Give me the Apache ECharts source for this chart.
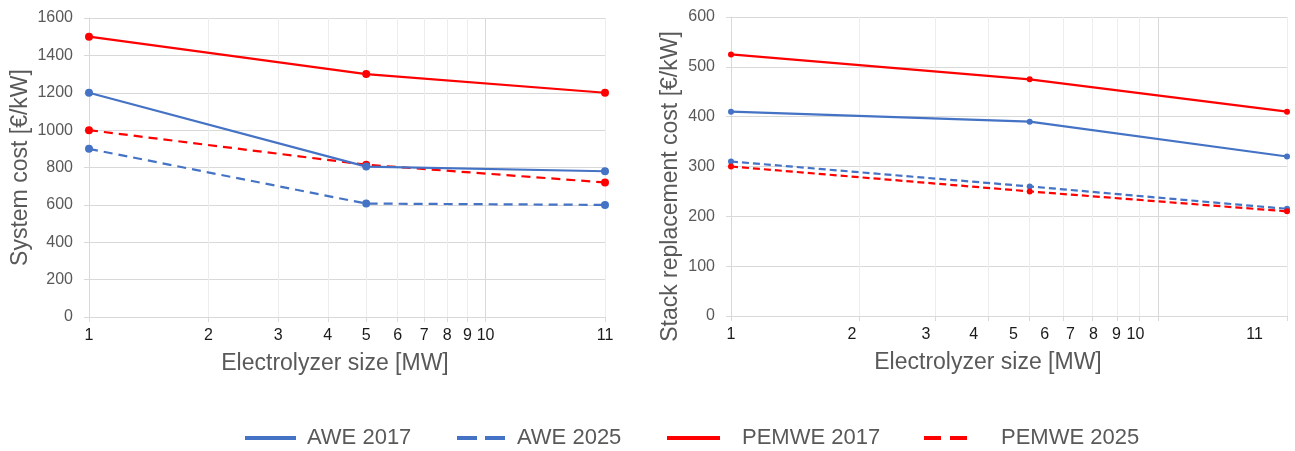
<!DOCTYPE html>
<html>
<head>
<meta charset="utf-8">
<script src="https://cdn.jsdelivr.net/npm/echarts@6/dist/echarts.min.js"></script>
<style>
html,body{margin:0;padding:0;background:#fff;}
#c{width:1295px;height:451px;}
</style>
</head>
<body>
<div id="c"></div>
<script>
// Electrolyzer sizes [MW] of the three data points
const sizes = [1, 5, 20];

// Left panel: system cost [€/kW]
const sysAWE2017 = [1200, 805, 780];
const sysAWE2025 = [900, 607, 600];
const sysPEM2017 = [1500, 1300, 1200];
const sysPEM2025 = [1000, 815, 720];

// Right panel: stack replacement cost [€/kW]
const stkAWE2017 = [410, 390, 320];
const stkAWE2025 = [310, 260, 215];
const stkPEM2017 = [525, 475, 410];
const stkPEM2025 = [300, 250, 210];

// x gridline values and tick labels
const gridValues = [1, 2, 3, 4, 5, 6, 7, 8, 9, 10, 20];
const tickLabels = ['1', '2', '3', '4', '5', '6', '7', '8', '9', '10', '11'];
// where the labels sit on each axis (as axis values)
const leftLabelAt = [1, 2, 3, 4, 5, 6, 7, 8, 9, 10, 20];
const rightLabelAt = [1, 1.92, 2.86, 3.7, 4.58, 5.42, 6.23, 7.05, 7.98, 8.84, 16.8];

const seriesNames = ['AWE 2017', 'AWE 2025', 'PEMWE 2017', 'PEMWE 2025'];
const BLUE = '#4472C4', RED = '#FF0000';
const GRAY = '#595959';

function pairs(vals) { return sizes.map((s, i) => [s, vals[i]]); }

function labelFor(atArr) {
  return function (v) {
    let best = 0, bd = Infinity;
    atArr.forEach((a, i) => { const d = Math.abs(Math.log(a) - Math.log(v)); if (d < bd) { bd = d; best = i; } });
    return tickLabels[best];
  };
}

const vColors = gridValues.map(v => (v === 1 || v === 10) ? '#D9D9D9' : '#EDEDED');

function xAxis(gi, labelAt, titlePad) {
  return {
    type: 'log', logBase: 10, gridIndex: gi, min: 1, max: 20,
    axisLine: { show: true, lineStyle: { color: '#D9D9D9', width: 1 } },
    axisTick: { show: true, customValues: gridValues, length: 5, lineStyle: { color: '#D9D9D9' } },
    axisLabel: { customValues: labelAt, formatter: labelFor(labelAt), color: '#1a1a1a', fontSize: 16,
      fontFamily: 'Liberation Sans', margin: 11, showMinLabel: true, showMaxLabel: true },
    splitLine: { show: true, lineStyle: { color: vColors, width: 1 } },
    minorTick: { show: false },
    name: 'Electrolyzer size [MW]', nameLocation: 'middle', nameGap: 35,
    nameTextStyle: { color: GRAY, fontSize: 23, fontFamily: 'Liberation Sans', padding: [0, titlePad, 0, 0] }
  };
}

function yAxis(gi, max, interval, name, gap, pad) {
  return {
    type: 'value', gridIndex: gi, min: 0, max: max, interval: interval,
    axisLine: { show: true, lineStyle: { color: '#D9D9D9', width: 1 } },
    axisTick: { show: true, length: 5, lineStyle: { color: '#D9D9D9' } },
    axisLabel: { color: GRAY, fontSize: 16, fontFamily: 'Liberation Sans', margin: 16,
      formatter: v => String(v) },
    splitLine: { show: true, lineStyle: { color: '#D9D9D9', width: 1 } },
    name: name, nameLocation: 'middle', nameGap: gap,
    nameTextStyle: { color: GRAY, fontSize: 23, fontFamily: 'Liberation Sans', padding: [0, pad, 0, 0] }
  };
}

function line(name, gi, vals, color, dashed, sym, dash) {
  return {
    name: name, type: 'line', xAxisIndex: gi, yAxisIndex: gi,
    data: pairs(vals), symbol: 'circle', symbolSize: sym, showSymbol: true,
    itemStyle: { color: color },
    lineStyle: { color: color, width: 2.2, type: dashed ? dash : 'solid' },
    emphasis: { disabled: true }, animation: false, z: dashed ? 2 : 3
  };
}

function legend(name, left, width, dash, textGap) {
  return {
    data: [name], left: left - 5, top: 422, itemWidth: width, itemHeight: 4,
    itemStyle: { opacity: 0 },
    lineStyle: { width: 4, type: dash ? dash : 'solid' },
    textStyle: { color: GRAY, fontSize: 22, fontFamily: 'Liberation Sans', padding: [0, 0, 0, textGap - 5] },
    selectedMode: false
  };
}

const chart = echarts.init(document.getElementById('c'));
chart.setOption({
  animation: false,
  backgroundColor: '#fff',
  grid: [
    { left: 89, top: 18, width: 516, height: 299 },
    { left: 731, top: 17, width: 556, height: 299 }
  ],
  xAxis: [xAxis(0, leftLabelAt, 24), xAxis(1, rightLabelAt, 42)],
  yAxis: [
    yAxis(0, 1600, 200, 'System cost [€/kW]', 57, 0),
    yAxis(1, 600, 100, 'Stack replacement cost [€/kW]', 49, 40)
  ],
  legend: [
    legend(seriesNames[0], 243, 51, null, 11),
    legend(seriesNames[1], 455, 48, [20, 8], 12),
    legend(seriesNames[2], 665, 53, null, 22),
    legend(seriesNames[3], 922, 43, [17, 9], 34)
  ],
  series: [
    line(seriesNames[0], 0, sysAWE2017, BLUE, false, 8),
    line(seriesNames[1], 0, sysAWE2025, BLUE, true, 8, [9, 6]),
    line(seriesNames[2], 0, sysPEM2017, RED, false, 8),
    line(seriesNames[3], 0, sysPEM2025, RED, true, 8, [9, 6]),
    line(seriesNames[0], 1, stkAWE2017, BLUE, false, 6),
    line(seriesNames[1], 1, stkAWE2025, BLUE, true, 6, [7, 4]),
    line(seriesNames[2], 1, stkPEM2017, RED, false, 6),
    line(seriesNames[3], 1, stkPEM2025, RED, true, 6, [7, 4])
  ]
});
</script>
</body>
</html>
